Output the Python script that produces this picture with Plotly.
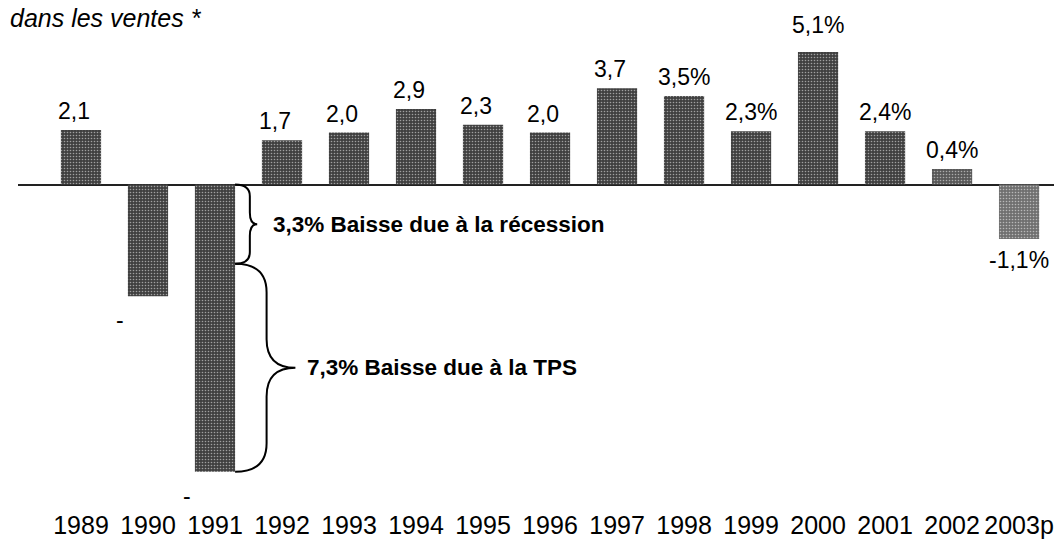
import plotly.graph_objects as go

# ---- data ----
years = ["1989", "1990", "1991", "1992", "1993", "1994", "1995", "1996",
         "1997", "1998", "1999", "2000", "2001", "2002", "2003p"]
# bar heights as drawn (percentage points)
bar_heights = [2.1, -4.3, -11.05, 1.7, 2.0, 2.9, 2.3, 2.0,
               3.7, 3.4, 2.05, 5.1, 2.05, 0.6, -2.1]
# value labels as printed
value_labels = ["2,1", "-", "-", "1,7", "2,0", "2,9", "2,3", "2,0",
                "3,7", "3,5%", "2,3%", "5,1%", "2,4%", "0,4%", "-1,1%"]
# 1991 drop split shown with braces
recession_drop = 3.05
tps_drop = 8.0
recession_text = "3,3% Baisse due à la récession"
tps_text = "7,3% Baisse due à la TPS"
title_text = "dans les ventes *"

# ---- styling ----
W, H = 1062, 542
FONT = "Liberation Sans, Arial, sans-serif"
bar_colors = ["#404040"] * len(years)
bar_colors[-1] = "#707070"
bar_colors[-2] = "#585858"

x = list(range(len(years)))

fig = go.Figure()
fig.add_trace(go.Bar(
    x=x, y=bar_heights, width=0.6,
    marker=dict(color=bar_colors, line=dict(width=0),
                pattern=dict(shape=".", fgcolor="#d8d8d8", size=3,
                             solidity=0.22, fillmode="overlay")),
    hoverinfo="skip", showlegend=False,
))

# value labels
for i, (h, lab) in enumerate(zip(bar_heights, value_labels)):
    if lab == "-":
        xs, ys = -28, -24
    else:
        xs = 0 if "%" in lab else -7
        ys = 19 if h > 0 else -21
        if h > 4.5:
            ys = 27
    fig.add_annotation(x=i, y=h, text=lab, showarrow=False, xshift=xs, yshift=ys,
                       font=dict(family=FONT, size=23, color="black"),
                       xanchor="center", yanchor="middle")

# braces next to the 1991 bar
i91 = years.index("1991")


def brace(x0, xv, xt, ytop, ybot, ry):
    ym = (ytop + ybot) / 2
    return (f"M {x0},{ytop} Q {xv},{ytop} {xv},{ytop - ry} "
            f"L {xv},{ym + ry} Q {xv},{ym} {xt},{ym} "
            f"Q {xv},{ym} {xv},{ym - ry} "
            f"L {xv},{ybot + ry} Q {xv},{ybot} {x0},{ybot}")


top1, bot1 = 0.0, -recession_drop
bot2 = bot1 - tps_drop
fig.add_shape(type="path", xref="x", yref="y",
              path=brace(i91 + 0.3, i91 + 0.52, i91 + 0.63, top1, bot1, 0.45),
              line=dict(color="black", width=2))
fig.add_shape(type="path", xref="x", yref="y",
              path=brace(i91 + 0.3, i91 + 0.77, i91 + 1.2, bot1, bot2, 1.1),
              line=dict(color="black", width=2))
fig.add_annotation(x=i91 + 0.9, y=(top1 + bot1) / 2, text=f"<b>{recession_text}</b>",
                   showarrow=False, xanchor="left", yanchor="middle", xshift=-4,
                   font=dict(family=FONT, size=22.5, color="black"))
fig.add_annotation(x=i91 + 1.43, y=(bot1 + bot2) / 2, text=f"<b>{tps_text}</b>",
                   showarrow=False, xanchor="left", yanchor="middle", xshift=-6,
                   font=dict(family=FONT, size=22.5, color="black"))

fig.update_layout(
    width=W, height=H,
    margin=dict(l=10, r=0, t=33, b=44, autoexpand=False),
    paper_bgcolor="white", plot_bgcolor="white",
    title=dict(text=f"<i>{title_text}</i>", x=2 / W, xanchor="left",
               y=1 - 10 / H, yanchor="middle", yref="container",
               pad=dict(l=0, r=0, t=0, b=0),
               font=dict(family=FONT, size=25, color="black")),
    xaxis=dict(tickmode="array", tickvals=x, ticktext=years,
               range=[-0.94, 14.76], showgrid=False, showline=False,
               zeroline=False, ticks="", tickangle=0, automargin=False,
               ticklabelstandoff=2,
               tickfont=dict(family=FONT, size=25, color="black")),
    yaxis=dict(range=[-12.365, 5.519], showgrid=False, showline=False,
               showticklabels=False, ticks="", zeroline=True,
               zerolinecolor="#222222", zerolinewidth=2),
    bargap=0.4,
)

fig.write_html("out.html")
